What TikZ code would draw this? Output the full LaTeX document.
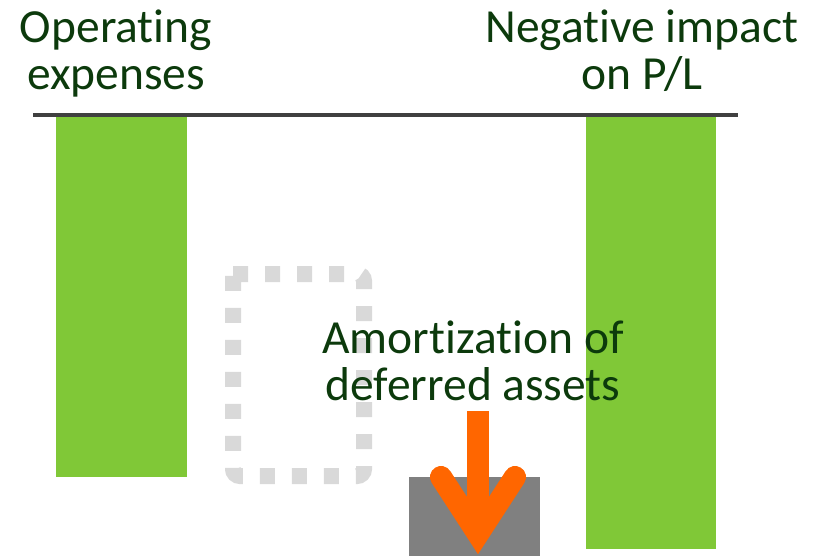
\documentclass[tikz,border=0pt]{standalone}
\usepackage{fontspec}
\setmainfont{Carlito}[Ligatures=CommonOff]
\definecolor{bargreen}{RGB}{128,200,55}
\definecolor{labelgreen}{RGB}{12,58,12}
\definecolor{axisgray}{RGB}{64,64,64}
\definecolor{dotgray}{RGB}{217,217,217}
\definecolor{blockgray}{RGB}{128,128,128}
\definecolor{arroworange}{RGB}{255,102,0}
\tikzset{
  bar/.style={fill=bargreen, draw=none},
  label/.style={text=labelgreen, align=center, inner sep=0pt, anchor=north,
    font=\fontsize{47.5}{47}\selectfont},
  axis/.style={draw=axisgray, line width=4.5pt},
  placeholder/.style={draw=dotgray, line width=16pt, dash pattern=on 15pt off 17pt},
  block/.style={fill=blockgray, draw=none},
  downarrow/.style={draw=arroworange, line width=22pt}
}
\begin{document}
\begin{tikzpicture}[x=1pt, y=-1pt]
  \useasboundingbox (0,0) rectangle (813,556);

  % green bars hanging below the axis
  \fill[bar] (56,117) rectangle (187,477);
  \fill[bar] (586,117) rectangle (716,549);

  % horizontal axis
  \coordinate (axisL) at (33,115);
  \coordinate (axisR) at (738,115);
  \draw[axis] (axisL) -- (axisR);

  % dotted placeholder box, rounded on its right side
  \coordinate (boxTL) at (233,274);
  \coordinate (boxTR) at (364,274);
  \coordinate (boxBR) at (364,476);
  \coordinate (boxBL) at (233,476);
  \draw[placeholder] (boxTL) [rounded corners=7pt] -- (boxTR) -- (boxBR) -- (boxBL) [sharp corners] -- (boxTL);

  % grey block
  \fill[block] (409,477) rectangle (540,556);

  % orange downward arrow
  \coordinate (shafttop) at (478,411);
  \coordinate (tip) at (478,534);
  \coordinate (headL) at (441,477);
  \coordinate (headR) at (515,477);
  \draw[downarrow, line cap=butt] (shafttop) -- (tip);
  \draw[downarrow, line cap=round, line join=miter] (headL) -- (tip) -- (headR);

  % labels
  \node[label] (opex) at (116,10) {Operating\\expenses};
  \node[label] (impact) at (642,10) {Negative impact\\on P/L};
  \node[label] (amort) at (473,321) {Amortization of\\deferred assets};
\end{tikzpicture}
\end{document}
